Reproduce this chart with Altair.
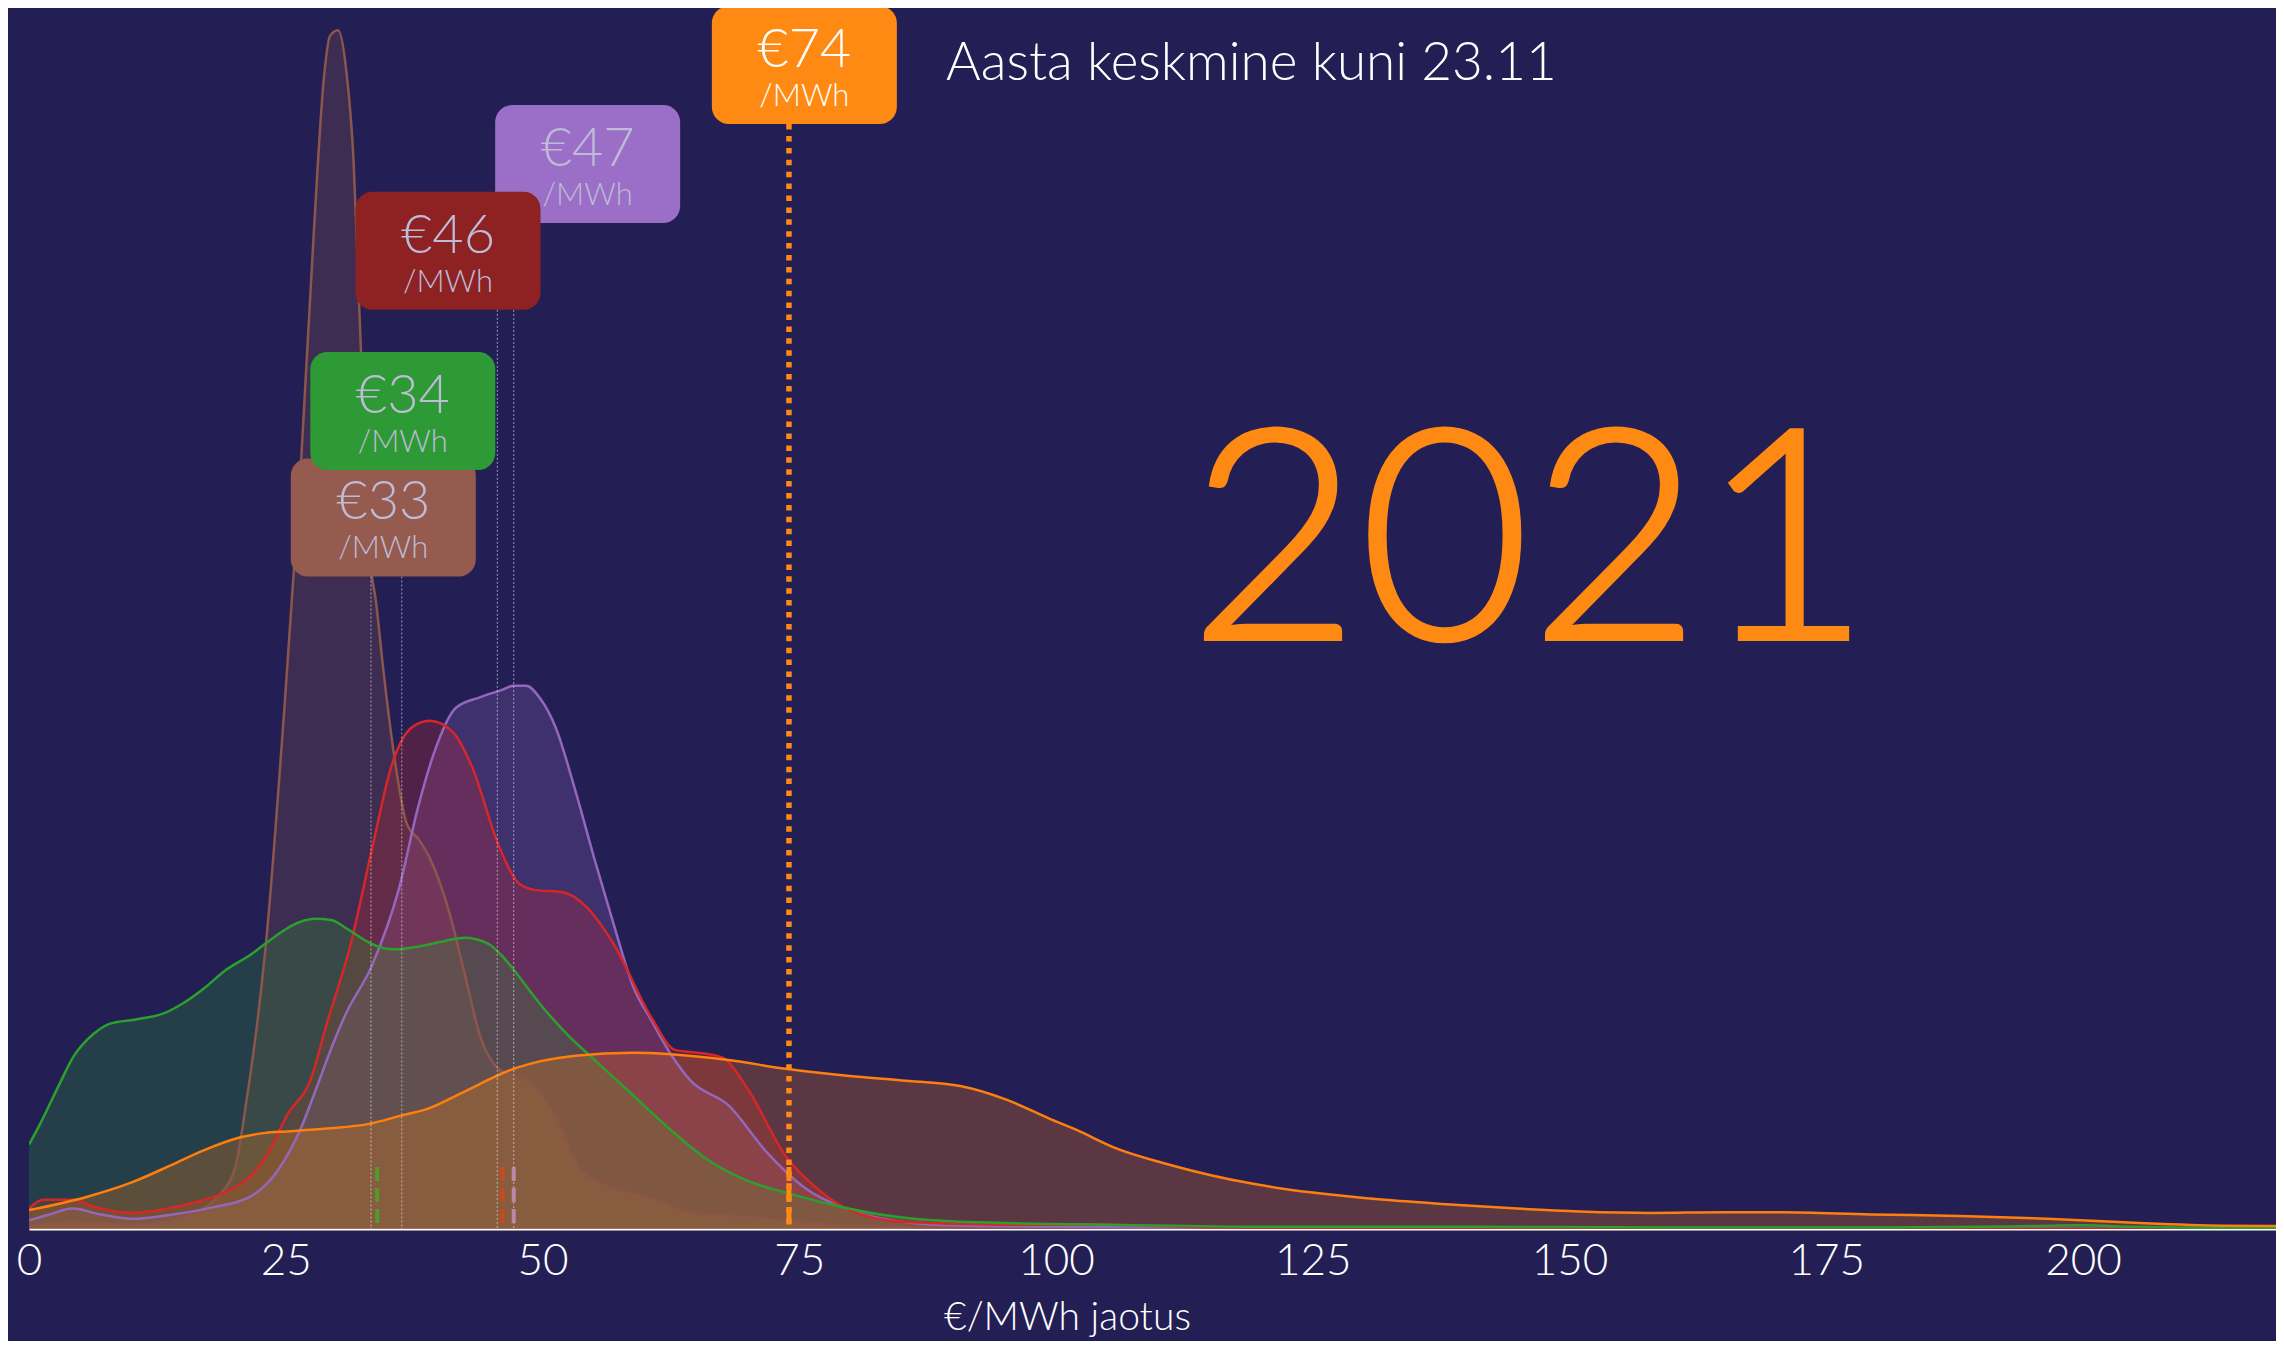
import altair as alt
import pandas as pd

# ---------------- data ----------------
# price (€/MWh) vs relative density (arbitrary units)
green_x = [0, 1, 3, 4.3, 6.3, 7.9, 10.5, 13.1, 15, 17, 19.2, 21.5, 24, 25.5, 27.9, 29.5, 31, 33.3, 35.5, 38,
           40, 42.4, 44.7, 46, 47.2, 49.7, 52.5, 55.1, 58.8, 62.5, 66.2, 70, 73.7, 78, 82, 88, 96, 105, 120, 140,
           160, 180, 195, 200, 205, 218.8]
green_h = [58, 71, 100, 118, 134, 141, 144, 148, 155, 165, 178, 188, 201, 208, 213, 212, 206, 196, 192, 194,
           197, 200, 196, 188, 178, 155, 133, 116, 92, 68, 47, 33, 25, 17, 11, 6, 4, 3, 1.5, 1.5,
           1, 1, 2, 2.5, 1.5, 0.5]

brown_x = [0, 2, 4.4, 7, 10, 13, 15, 16.7, 18.5, 20.1, 21.2, 22.2, 23.1, 24.8, 26.4, 27.7, 28.7, 29.3, 30.1, 30.9,
           31.6, 32.2, 33.2, 33.8, 34.5, 35.3, 36.8, 38, 39, 40.9, 42.4, 43.9, 45.7, 47.5, 49.1, 51.3, 53.9, 56.9,
           60.6, 64.4, 70, 75, 80, 90, 110, 218.8]
brown_h = [2, 4, 5, 4, 3, 5, 8, 13, 23, 43, 89, 140, 198, 351, 515, 680, 789, 819, 823, 795,
           734, 625, 461, 430, 384, 338, 278, 267, 255, 218, 176, 133, 110, 104, 99, 76, 39, 28,
           21, 11, 8, 5, 2, 1, 0.5, 0]

red_x = [0, 1.4, 4.4, 6, 8.5, 10, 13.4, 16, 19.9, 21.5, 23.1, 25.2, 27.4, 29, 31.3, 33.4, 35.3, 37.2, 39, 41.3,
         43.1, 45.7, 47.6, 49.1, 52.1, 54.3, 56.9, 60.7, 62.9, 66.2, 67.7, 70, 73.7, 76.7, 79.9, 85, 95, 105,
         115, 130, 218.8]
red_h = [14, 20, 20, 16, 12, 11, 14, 18, 28, 36, 50, 79, 102, 141, 195, 261, 318, 344, 349, 341,
         318, 264, 238, 233, 231, 221, 196, 144, 123, 120, 117, 96, 50, 28, 13, 5, 3, 3,
         1, 0.5, 0]

purple_x = [0, 2, 4.2, 7, 10, 14, 18, 21.5, 24.1, 26.4, 28, 29.6, 30.8, 33.4, 36, 37.9, 39.4, 41.6, 43.9, 46,
            47.2, 48.4, 49.8, 51.3, 53.2, 55.1, 56.9, 58.8, 60.7, 62.5, 64.4, 68.1, 71.8, 75.6, 79.9, 84, 88,
            100, 120, 218.8]
purple_h = [6, 10, 14, 10, 7, 10, 15, 22, 39, 68, 97, 127, 147, 181, 233, 290, 326, 358, 365, 370,
            373, 373, 364, 344, 301, 253, 210, 167, 142, 120, 102, 85, 53, 28, 13, 6, 3,
            1.5, 0.5, 0]

orange_x = [0, 5.6, 10, 13.9, 17, 20.6, 23, 25.1, 29, 33, 36.3, 39, 42, 47.6, 53.2, 58.8, 62.5, 68.1, 73.7, 79.9,
            85, 90.8, 95.1, 99.3, 102, 106, 110.6, 119.2, 125, 132, 138, 144.9, 151, 157.8, 165, 170.7, 179.3,
            188, 196.5, 205, 213.7, 218.8]
orange_h = [13, 22, 32, 44, 54, 63, 66, 67, 69, 72, 78, 83, 93, 111, 119, 121, 120, 116, 110, 105,
            102, 98, 89, 76, 68, 55, 45, 31, 25, 20, 17, 14, 12, 11, 11.5, 11.5, 10,
            9, 7, 4.3, 2.3, 2]

series_names = ["brown", "purple", "red", "green", "orange"]
series_x = [brown_x, purple_x, red_x, green_x, orange_x]
series_h = [brown_h, purple_h, red_h, green_h, orange_h]
line_colors = ["#a56b4e", "#b48fdc", "#e0282c", "#2ca02c", "#ff7f0e"]
fill_colors = ["#8c564b", "#9467bd", "#d62728", "#2ca02c", "#ff7f0e"]

# average labels
label_series = ["brown", "green", "purple", "red", "orange"]
label_text = ["€33", "€34", "€47", "€46", "€74"]
label_unit = ["/MWh", "/MWh", "/MWh", "/MWh", "/MWh"]
label_cx = [34.5, 36.4, 54.4, 40.8, 75.5]
label_cy = [488.5, 561.6, 731.2, 671.7, 799.1]
box_colors = ["#955b4f", "#2e9a36", "#9b6fc7", "#8e2223", "#ff8a13"]
text_colors = ["#bdbbd6", "#bdbbd6", "#bdbbd6", "#bdbbd6", "#ffffff"]

# marker lines
dotted_x = [33.3, 36.3, 45.6, 47.2]
dotted_top = [448, 448, 675, 631]
short_x = [33.9, 46.1, 47.2]
short_colors = ["#4f9c2a", "#c94a1e", "#b98aa8"]
short_top = 42.6
year_mean = 74
year_mean_top = 758.6

ticks = [0, 25, 50, 75, 100, 125, 150, 175, 200]
title_text = "Aasta keskmine kuni 23.11"
year_text = "2021"
axis_title = "€/MWh jaotus"

# ---------------- layout ----------------
BG = "#231f55"
FONT = "Lato"
WIDTH = 2247
HEIGHT = 1221
XMAX = 218.8
YMAX = 838.3
px_x = WIDTH / XMAX
px_y = HEIGHT / YMAX
BOX_W = 185
BOX_H = 118

rows = []
for name, xs, hs in zip(series_names, series_x, series_h):
    for x, h in zip(xs, hs):
        rows.append({"series": name, "x": x, "h": h})
curves = pd.DataFrame(rows)

xscale = alt.Scale(domain=[0, XMAX], nice=False, zero=False)
yscale = alt.Scale(domain=[0, YMAX], nice=False, zero=False)

xenc = alt.X(
    "x:Q", scale=xscale,
    axis=alt.Axis(values=ticks, format="d", title=axis_title, grid=False, ticks=False,
                  labelFont=FONT, labelFontSize=44, labelFontWeight=300, labelColor="white",
                  labelPadding=10, labelFlush=False, labelBound=False,
                  domainColor="white", domainWidth=2,
                  titleFont=FONT, titleFontSize=39, titleFontWeight=300, titleColor="white",
                  titleX=1038, titleY=100, titleBaseline="alphabetic", titleAlign="center"),
)
yenc = alt.Y("h:Q", scale=yscale, axis=None, stack=None)

areas = alt.Chart(curves).mark_area(interpolate="monotone", fillOpacity=0.25, clip=True).encode(
    x=xenc, y=yenc,
    color=alt.Color("series:N", scale=alt.Scale(domain=series_names, range=fill_colors), legend=None),
)
lines = alt.Chart(curves).mark_line(interpolate="monotone", strokeWidth=2.5, clip=True).encode(
    x=alt.X("x:Q", scale=xscale), y=alt.Y("h:Q", scale=yscale),
    color=alt.Color("series:N", scale=alt.Scale(domain=series_names, range=line_colors), legend=None),
    order=alt.Order("x:Q"),
)

dotted = alt.Chart(pd.DataFrame({"x": dotted_x, "top": dotted_top, "bottom": [0] * len(dotted_x)})).mark_rule(
    color="white", strokeWidth=1, strokeDash=[2, 2], opacity=0.55
).encode(x=alt.X("x:Q", scale=xscale), y=alt.Y("top:Q", scale=yscale), y2="bottom:Q")

short = alt.Chart(pd.DataFrame({"x": short_x, "top": [short_top] * len(short_x),
                                "bottom": [0] * len(short_x), "c": short_colors})).mark_rule(
    strokeWidth=4, strokeDash=[14, 7]
).encode(x=alt.X("x:Q", scale=xscale), y=alt.Y("top:Q", scale=yscale), y2="bottom:Q",
         color=alt.Color("c:N", scale=None))

mean_df = pd.DataFrame({"x": [year_mean], "top": [year_mean_top], "bottom": [0]})
mean_short = alt.Chart(pd.DataFrame({"x": [year_mean], "top": [short_top], "bottom": [0]})).mark_rule(
    color="#ff8a13", strokeWidth=5, strokeDash=[14, 7]
).encode(x=alt.X("x:Q", scale=xscale), y=alt.Y("top:Q", scale=yscale), y2="bottom:Q")
mean_rule = alt.Chart(mean_df).mark_rule(
    color="#ff8a13", strokeWidth=5.5, strokeDash=[5.5, 6.4]
).encode(x=alt.X("x:Q", scale=xscale), y=alt.Y("top:Q", scale=yscale), y2="bottom:Q")

hw = BOX_W / 2 / px_x
hh = BOX_H / 2 / px_y
labels = pd.DataFrame({
    "series": label_series, "text": label_text, "unit": label_unit,
    "cx": label_cx, "cy": label_cy,
    "x1": [c - hw for c in label_cx], "x2": [c + hw for c in label_cx],
    "y1": [c - hh for c in label_cy], "y2": [c + hh for c in label_cy],
    "fill": box_colors, "tc": text_colors,
})
boxes = alt.Chart(labels).mark_rect(cornerRadius=17).encode(
    x=alt.X("x1:Q", scale=xscale), x2="x2:Q",
    y=alt.Y("y1:Q", scale=yscale), y2="y2:Q",
    color=alt.Color("fill:N", scale=None),
)
box_main = alt.Chart(labels).mark_text(font=FONT, fontSize=54, fontWeight=300, baseline="alphabetic",
                                       align="center", dy=2).encode(
    x=alt.X("cx:Q", scale=xscale), y=alt.Y("cy:Q", scale=yscale), text="text:N",
    color=alt.Color("tc:N", scale=None),
)
box_unit = alt.Chart(labels).mark_text(font=FONT, fontSize=31, fontWeight=300, baseline="alphabetic",
                                       align="center", dy=41).encode(
    x=alt.X("cx:Q", scale=xscale), y=alt.Y("cy:Q", scale=yscale), text="unit:N",
    color=alt.Color("tc:N", scale=None),
)

title = alt.Chart(pd.DataFrame({"t": [title_text]})).mark_text(
    font=FONT, fontSize=53, fontWeight=300, color="white", align="left", baseline="alphabetic"
).encode(text="t:N", x=alt.value(917), y=alt.value(72))

year = alt.Chart(pd.DataFrame({"t": [year_text]})).mark_text(
    font=FONT, fontSize=294, fontWeight=300, color="#ff8a13", stroke="#ff8a13", strokeWidth=4,
    align="left", baseline="alphabetic"
).encode(text="t:N", x=alt.value(1160), y=alt.value(631))

chart = alt.layer(
    areas, lines, dotted, short, mean_short, mean_rule, boxes, box_main, box_unit, title, year
).properties(
    width=WIDTH, height=HEIGHT,
    padding={"left": 21, "top": 0, "right": 0, "bottom": 112},
    autosize=alt.AutoSizeParams(type="none"),
    background=BG,
).configure_view(stroke=None)

chart.save("out.html", embed_options={"renderer": "svg", "actions": False})
